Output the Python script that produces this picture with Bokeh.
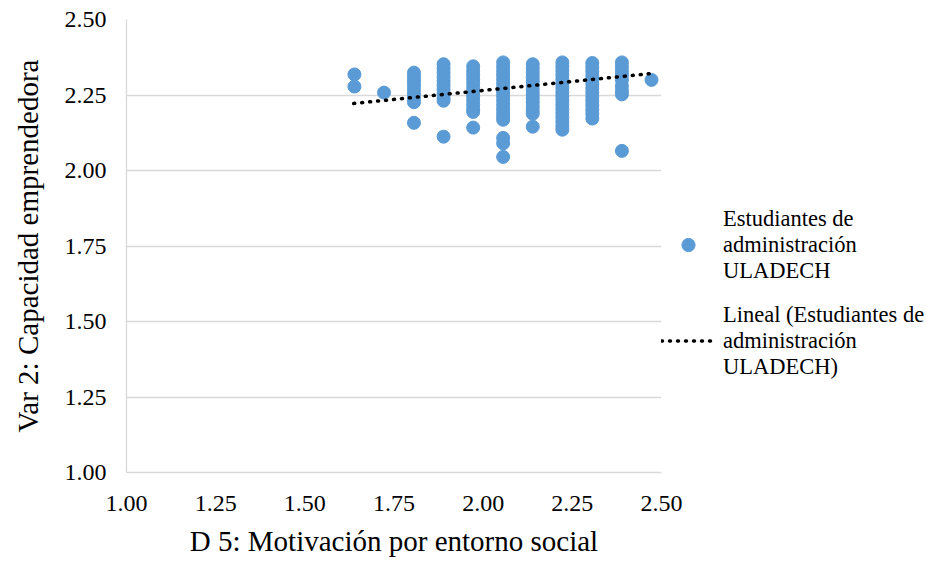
from bokeh.plotting import figure
from bokeh.models import Range1d, FixedTicker, PrintfTickFormatter, Legend, LegendItem
from bokeh.embed import file_html
from bokeh.resources import INLINE

# x levels (D 5: Motivación por entorno social)
col_x = [1.639, 1.722, 1.806, 1.889, 1.972, 2.056, 2.139, 2.222, 2.306, 2.389, 2.472]
# y values per x level (Var 2: Capacidad emprendedora)
col_y = [
    [2.318, 2.278],
    [2.258],
    [2.324, 2.310, 2.296, 2.282, 2.268, 2.254, 2.240, 2.226, 2.158],
    [2.352, 2.338, 2.324, 2.310, 2.296, 2.282, 2.268, 2.254, 2.240, 2.231, 2.112],
    [2.345, 2.330, 2.316, 2.302, 2.288, 2.274, 2.260, 2.246, 2.232, 2.218, 2.204, 2.194, 2.142],
    [2.358, 2.344, 2.330, 2.316, 2.302, 2.288, 2.274, 2.260, 2.246, 2.232, 2.218, 2.204,
     2.190, 2.178, 2.168, 2.108, 2.090, 2.045],
    [2.352, 2.338, 2.324, 2.310, 2.296, 2.282, 2.268, 2.254, 2.240, 2.226, 2.212, 2.198,
     2.188, 2.145],
    [2.358, 2.344, 2.330, 2.316, 2.302, 2.288, 2.274, 2.260, 2.246, 2.232, 2.218, 2.204,
     2.190, 2.176, 2.162, 2.148, 2.135],
    [2.356, 2.342, 2.328, 2.314, 2.300, 2.286, 2.272, 2.258, 2.244, 2.230, 2.216, 2.202,
     2.188, 2.172],
    [2.358, 2.344, 2.330, 2.316, 2.300, 2.280, 2.264, 2.252, 2.065],
    [2.300],
]
# linear trend line endpoints
trend_x = [1.637, 2.470]
trend_y = [2.222, 2.321]

ticks = [1.00, 1.25, 1.50, 1.75, 2.00, 2.25, 2.50]
x_title = "D 5: Motivación por entorno social"
y_title = "Var 2: Capacidad emprendedora"
series_label = "Estudiantes de\nadministración\nULADECH"
trend_label = "Lineal (Estudiantes de\nadministración\nULADECH)"

xs, ys = [], []
for cx, cy in zip(col_x, col_y):
    for v in cy:
        xs.append(cx)
        ys.append(v)

FONT = "Liberation Serif"
FW, FH = 535, 453          # plot frame size in px
BL, BT = 126, 19           # left / top borders
W, H = 936, 559

p = figure(width=W, height=H, frame_width=FW, frame_height=FH,
           output_backend="svg", toolbar_location=None,
           x_range=Range1d(1.0, 2.5), y_range=Range1d(1.0, 2.5))
p.min_border_left = BL
p.min_border_right = 0
p.min_border_top = BT
p.min_border_bottom = H - BT - FH
p.outline_line_color = None
p.background_fill_color = "white"
p.border_fill_color = "white"

p.xgrid.grid_line_color = None
p.ygrid.grid_line_color = "#d9d9d9"
p.ygrid.grid_line_width = 1.3

for ax in (p.xaxis[0], p.yaxis[0]):
    ax.ticker = FixedTicker(ticks=ticks)
    ax.formatter = PrintfTickFormatter(format="%.2f")
    ax.axis_line_color = "#d9d9d9"
    ax.axis_line_width = 1.3
    ax.major_tick_line_color = None
    ax.minor_tick_line_color = None
    ax.major_label_text_font = FONT
    ax.major_label_text_font_size = "24px"
    ax.major_label_text_color = "#000000"
    ax.major_label_text_line_height = 1.0
    ax.axis_label_text_font = FONT
    ax.axis_label_text_font_size = "29px"
    ax.axis_label_text_font_style = "normal"
    ax.axis_label_text_color = "#000000"
    ax.axis_label_text_line_height = 1.0

p.xaxis.axis_label = x_title
p.yaxis.axis_label = y_title
p.xaxis.major_label_standoff = 17
p.xaxis.axis_label_standoff = 11
p.yaxis.major_label_standoff = 14
p.yaxis.axis_label_standoff = 18

r_pts = p.scatter(xs, ys, size=13, fill_color="#5B9BD5", line_color="#5B9BD5")
r_trend = p.line(trend_x, trend_y, line_color="black", line_width=3.5,
                 line_dash="1 7", line_cap="round")

legend = Legend(items=[LegendItem(label=series_label, renderers=[r_pts]),
                       LegendItem(label=trend_label, renderers=[r_trend])])
legend.label_text_font = FONT
legend.label_text_font_size = "22.5px"
legend.label_text_line_height = 1.2
legend.label_text_color = "#000000"
legend.border_line_color = None
legend.background_fill_alpha = 0
legend.glyph_width = 54
legend.glyph_height = 33
legend.label_standoff = 8
legend.spacing = 18
legend.margin = 0
legend.padding = 0
legend.location = (0, 92.5)
p.add_layout(legend, "right")

open("out.html", "w").write(file_html(p, INLINE))
